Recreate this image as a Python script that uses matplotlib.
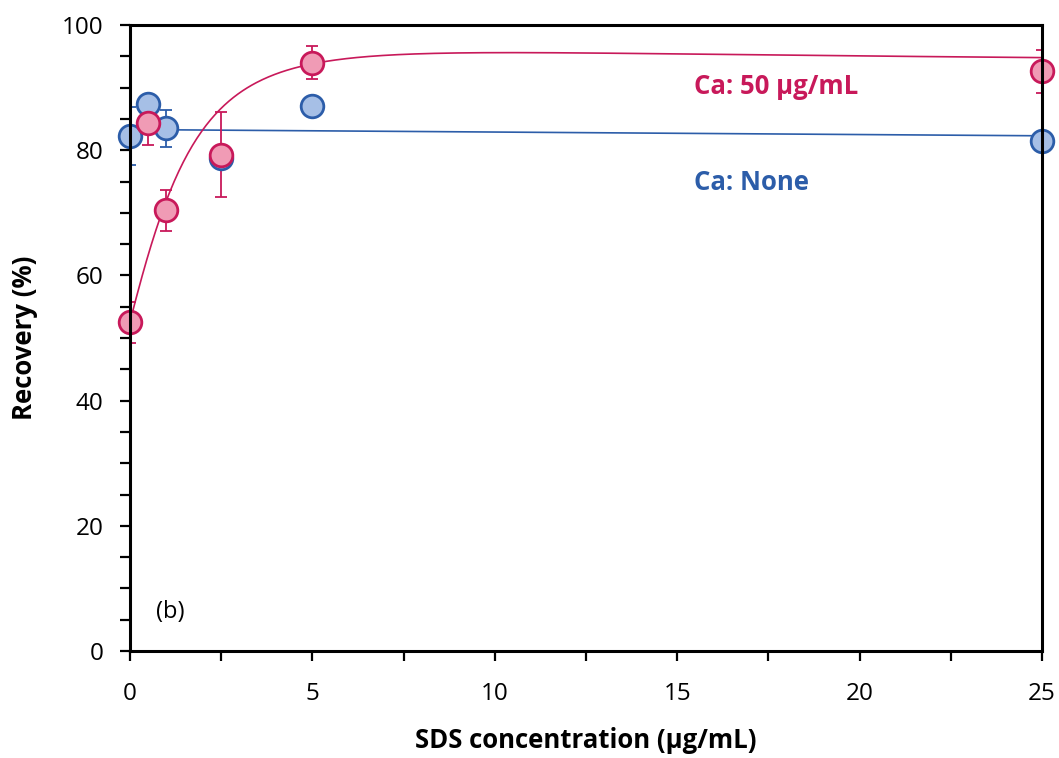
import numpy as np
import matplotlib
matplotlib.use("Agg")
import matplotlib.pyplot as plt
from matplotlib.ticker import MultipleLocator

plt.rcParams['font.family'] = ['Open Sans', 'DejaVu Sans']

# SDS concentration (µg/mL)
sds = [0, 0.5, 1, 2.5, 5, 25]

# Recovery (%) without calcium
rec_none = [82.3, 87.4, 83.5, 78.7, 87.1, 81.5]
err_none = [4.6, 1.0, 3.0, 1.0, 1.0, 1.0]

# Recovery (%) with Ca 50 µg/mL
rec_ca = [52.5, 84.4, 70.4, 79.3, 94.0, 92.6]
err_ca = [3.3, 3.6, 3.3, 6.8, 2.7, 3.4]

# Linear trend for the no-calcium series: intercept, slope
lin_none = [83.3, -0.04]
# Rational fit for the calcium series: (a + b x + c x^2) / (1 + d x + e x^2)
rat_ca = [52.6, 40.45, 14.23, 0.337, 0.153]

pink_edge = '#C8195A'
pink_fill = '#F09BB5'
blue_edge = '#2C5DA9'
blue_fill = '#A6BFE6'

fig = plt.figure(figsize=(10.59, 7.58), dpi=100)
ax = fig.add_axes([130 / 1059, 1 - 651 / 758, (1042 - 130) / 1059, (651 - 25) / 758])

# trend lines
xs = np.linspace(0, 25, 600)
ax.plot(xs, lin_none[0] + lin_none[1] * xs, color=blue_edge, lw=1.2, zorder=2)
a, b, c, d, e = rat_ca
ax.plot(xs, (a + b * xs + c * xs ** 2) / (1 + d * xs + e * xs ** 2),
        color=pink_edge, lw=1.2, zorder=2)

# error bars underneath all markers
ax.errorbar(sds, rec_none, yerr=err_none, fmt='none', ecolor=blue_edge,
            elinewidth=1.3, capsize=4.3, capthick=1.3, zorder=2.5)
ax.errorbar(sds, rec_ca, yerr=err_ca, fmt='none', ecolor=pink_edge,
            elinewidth=1.3, capsize=4.3, capthick=1.3, zorder=2.5)

# markers
ax.plot(sds, rec_none, 'o', ms=16.3, mfc=blue_fill, mec=blue_edge, mew=2.0,
        zorder=3, clip_on=False)
ax.plot(sds, rec_ca, 'o', ms=16.3, mfc=pink_fill, mec=pink_edge, mew=2.0,
        zorder=4, clip_on=False)

ax.set_xlim(0, 25)
ax.set_ylim(0, 100)
ax.xaxis.set_major_locator(MultipleLocator(5))
ax.xaxis.set_minor_locator(MultipleLocator(2.5))
ax.yaxis.set_major_locator(MultipleLocator(20))
ax.yaxis.set_minor_locator(MultipleLocator(5))
ax.tick_params(which='both', direction='out', width=1.6, labelsize=17.5)
ax.tick_params(axis='x', which='both', length=7, pad=15)
ax.tick_params(axis='y', which='both', length=7, pad=12)
for s in ax.spines.values():
    s.set_linewidth(2.2)
    s.set_zorder(5)

ax.set_xlabel('SDS concentration (µg/mL)', fontsize=18.5, fontweight='bold')
ax.set_ylabel('Recovery (%)', fontsize=18.5, fontweight='bold')
ax.xaxis.label.set_va('center')
ax.yaxis.label.set_va('center')
ax.xaxis.set_label_coords(0.5, (651 - 740) / 626)
ax.yaxis.set_label_coords((25 - 130) / 912, 0.5)

ax.text(15.45, 90.2, 'Ca: 50 µg/mL', color=pink_edge, fontsize=18.5,
        fontweight='bold', va='center', ha='left')
ax.text(15.45, 74.9, 'Ca: None', color=blue_edge, fontsize=18.5,
        fontweight='bold', va='center', ha='left')
ax.text(0.7, 6.3, '(b)', fontsize=17, va='center', ha='left')

fig.savefig('out.png', dpi=100)
